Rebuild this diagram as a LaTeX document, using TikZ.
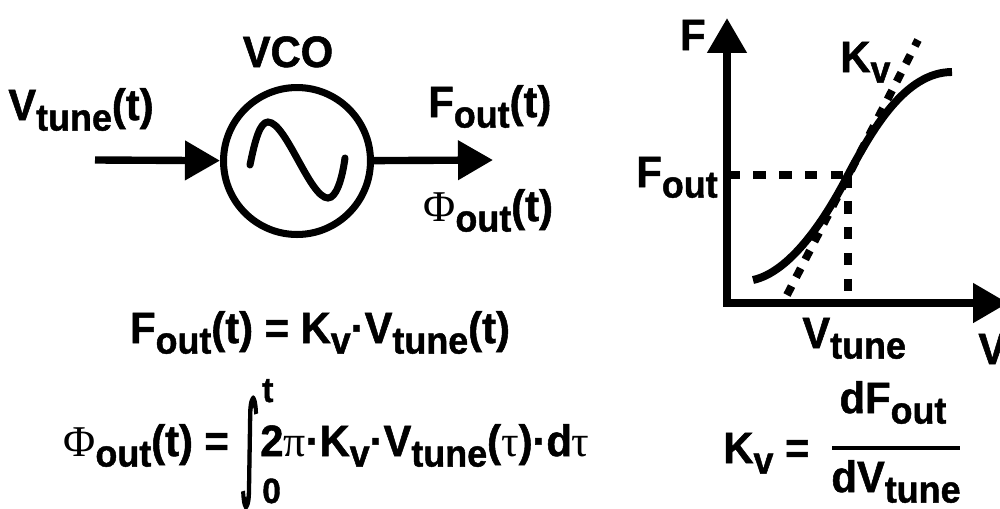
\documentclass[tikz,border=0pt]{standalone}
\usepackage{fontspec}
\setmainfont{Liberation Sans}[BoldFeatures={FakeBold=1.2,FakeStretch=0.95}]
\newfontfamily\grk{Liberation Serif}
\newfontfamily\symf{DejaVu Sans}[FakeBold=3]
\usetikzlibrary{arrows.meta,positioning}

% subscript, greek letter and centred dot
\newcommand{\lo}[1]{\raisebox{-0.24em}{\fontsize{21.5}{22}\selectfont #1}}
\newcommand{\gk}[1]{{\grk\mdseries #1}}
\newcommand{\md}{\textperiodcentered}

\begin{document}
\begin{tikzpicture}[
    x=0.02cm, y=-0.02cm,
    lbl/.style={inner sep=0pt, font=\fontsize{25}{30}\selectfont\bfseries},
    lim/.style={inner sep=0pt, font=\fontsize{20}{22}\selectfont\bfseries},
    wire/.style={line width=4.2pt, -{Triangle[length=0.7cm,width=0.76cm]}},
    axis/.style={line width=4.5pt, {Triangle[length=0.7cm,width=0.76cm]}-{Triangle[length=0.7cm,width=0.76cm]}},
    guide/.style={line width=4.5pt, dash pattern=on 0.25cm off 0.27cm},
    tang/.style={line width=4.5pt, dash pattern=on 0.2cm off 0.2cm}
]
\useasboundingbox (0,0) rectangle (1000,508);

% oscillator block
\node[draw, circle, line width=4pt, minimum size=2.94cm, inner sep=0pt] (osc) at (297,161) {};
\node[lbl, anchor=base] (vco) at (288,67) {VCO};
\draw[line width=4pt, line cap=round] (250,165) .. controls (255,140) and (260,122) .. (268,122)
    .. controls (286,122) and (310,198) .. (328,198) .. controls (336,198) and (342,180) .. (345,158);
\coordinate (in) at (95,160);
\coordinate (out) at (493,160);
\draw[wire] (in) -- (osc);
\draw[wire] (osc) -- (out);
\node[lbl, anchor=base west] (vtune) at (8,120) {V\lo{tune}(t)};
\node[lbl, anchor=base west] (fout) at (428,117) {F\lo{out}(t)};
\node[lbl, anchor=base west] (phiout) at (423,221) {\gk{Φ}\lo{out}(t)};

% equations
\node[lbl, anchor=base] (eqf) at (320,343) {F\lo{out}(t) = K\lo{v}\md V\lo{tune}(t)};
\node[lbl, anchor=base west] (eqphi) at (63,456) {\gk{Φ}\lo{out}(t) =};
\node[inner sep=0pt, right=0.2cm of eqphi.east, yshift=-0.14cm] (intg) {\resizebox*{0.4cm}{2.22cm}{\symf ∫}};
\node[lim, anchor=base west] (up) at ([xshift=0.04cm]intg.north east |- 0,402) {t};
\node[lim, anchor=base west] (low) at ([xshift=0.04cm]intg.north east |- 0,503) {0};
\node[lbl, anchor=base west] (eqint) at (intg.east |- eqphi.base) {2\gk{π}\md K\lo{v}\md V\lo{tune}(\gk{τ})\md d\gk{τ}};

% tuning curve
\coordinate (org) at (727,303);
\coordinate (ytop) at (727,18);
\coordinate (xend) at (1008,303);
\coordinate (op) at (848,175);
\coordinate (ta) at (787,295);
\coordinate (tb) at (918,40);
\draw[axis] (ytop) -- (org) -- (xend);
\draw[guide] (org |- op) -- (op);
\draw[guide] (op) -- (op |- org);
\draw[tang] (ta) -- (tb);
\draw[line width=4.5pt] (753,280) .. controls (790,272) and (825,220) .. (op)
    .. controls (872,130) and (905,72) .. (952,72);
\node[lbl, anchor=base east] (flab) at (706,50) {F};
\node[lbl, anchor=base east] (fop) at (718,187) {F\lo{out}};
\node[lbl, anchor=base west] (kvlab) at (840,72) {K\lo{v}};
\node[lbl, anchor=base west] (vop) at (802,348) {V\lo{tune}};
\node[lbl, anchor=base west] (vlab) at (978,364) {V};

% gain definition
\node[lbl, anchor=base west] (kv) at (723,463) {K\lo{v} =};
\node[lbl, anchor=base] (num) at (893,413) {dF\lo{out}};
\node[lbl, anchor=base] (den) at (896,492) {dV\lo{tune}};
\coordinate (barl) at (832,448);
\coordinate (barr) at (960,448);
\draw[line width=2.8pt] (barl) -- (barr);
\end{tikzpicture}
\end{document}
